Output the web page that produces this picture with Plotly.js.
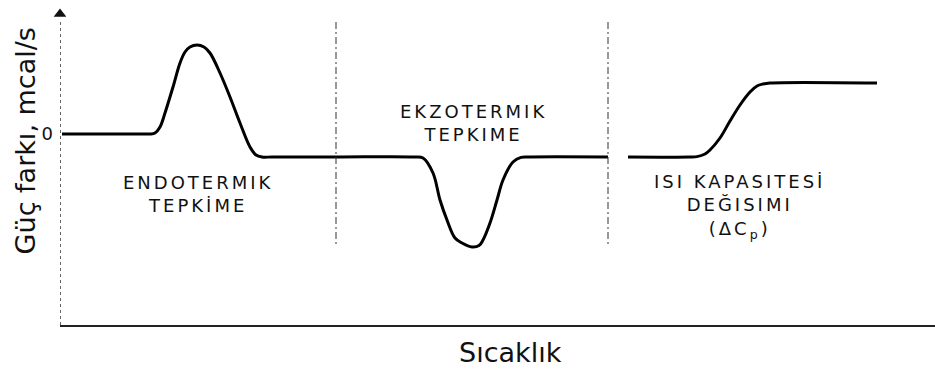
<!DOCTYPE html>
<html>
<head>
<meta charset="utf-8">
<script src="https://cdn.plot.ly/plotly-3.0.1.min.js"></script>
<style>
  html, body { margin: 0; padding: 0; background: #fff; }
  #chart { width: 935px; height: 370px; }
  /* stencil-like spacing for the three region labels */
  .annotation[data-index="0"] text,
  .annotation[data-index="1"] text,
  .annotation[data-index="2"] text { letter-spacing: 3px; }
</style>
</head>
<body>
<div id="chart"></div>
<script>
// Thermogram: power difference versus temperature (arbitrary units)
const temperature = [
  0.2, 8.0, 9.0, 9.5, 10.0, 10.5, 11.3, 12.0, 12.5, 13.0, 13.7, 14.4, 15.0, 16.0, 17.0, 18.0, 19.0, 19.6, 20.2, 21.2,
  27.6, 35.4, 36.3, 37.3, 38.0, 38.7, 39.5, 40.2, 41.2, 41.9, 42.3, 43.0, 43.7, 44.3, 45.3, 46.1, 47.0, 54.8,
  null,
  56.8, 63.0, 63.7, 64.5, 65.0, 66.0, 67.0, 68.0, 69.0, 69.7, 70.3, 71.0, 81.7
];
const powerDiff = [
  0, 0, 0, 0.05, 0.35, 1.05, 2.35, 3.55, 4.1, 4.35, 4.45, 4.35, 4.05, 3.05, 1.85, 0.55, -0.65, -1.05, -1.15, -1.15,
  -1.15, -1.15, -1.2, -1.95, -3.3, -4.3, -5.2, -5.45, -5.65, -5.58, -5.3, -4.45, -3.3, -2.3, -1.4, -1.17, -1.15, -1.15,
  null,
  -1.15, -1.15, -1.13, -1.0, -0.8, -0.2, 0.65, 1.45, 2.1, 2.4, 2.5, 2.55, 2.55
];

// Region boundaries (dashed)
const boundaryT = [27.6, 54.8];
const boundaryTop = 5.6;
const boundaryBottom = -5.55;

// Y axis tick
const yTickVals = [0];
const yTickText = ['0'];

// Region labels
const regionLabels = [
  'ENDOTERMIK<br>TEPKİME',
  'EKZOTERMIK<br>TEPKIME',
  'ISI KAPASITESİ<br>DEĞISIMI<br>(ΔC<sub>p</sub>)'
];
const regionLabelT = [13.9, 41.4, 67.9];
const regionLabelP = [-2.975, 0.55, -3.6];

const xTitle = 'Sıcaklık';
const yTitle = 'Güç farkı, mcal/s';

const ink = '#000';
const labelFont = { family: 'DejaVu Sans', size: 18, color: '#111' };

const traces = [
  {
    x: temperature, y: powerDiff, type: 'scatter', mode: 'lines',
    line: { color: ink, width: 3, shape: 'spline', smoothing: 1 },
    connectgaps: false, hoverinfo: 'skip'
  },
  // arrow head at the top of the vertical axis
  {
    x: [0], y: [6.0], type: 'scatter', mode: 'markers', cliponaxis: false,
    marker: { symbol: 'triangle-up', size: 11, color: '#111', line: { width: 0 } }, hoverinfo: 'skip'
  }
];
boundaryT.forEach(t => traces.push({
  x: [t, t], y: [boundaryTop, boundaryBottom], type: 'scatter', mode: 'lines',
  line: { color: '#333', width: 1, dash: '7px,3px,2px,3px' }, hoverinfo: 'skip'
}));

const annotations = regionLabels.map((txt, i) => ({
  text: txt, x: regionLabelT[i], y: regionLabelP[i], xref: 'x', yref: 'y',
  showarrow: false, xanchor: 'center', yanchor: 'middle', align: 'center', font: labelFont
}));
annotations.push({
  text: xTitle, xref: 'paper', yref: 'paper', x: 0.5154, y: -0.086,
  showarrow: false, xanchor: 'center', yanchor: 'middle',
  font: { family: 'DejaVu Sans', size: 27, color: '#111' }
});
annotations.push({
  text: yTitle, xref: 'paper', yref: 'paper', x: -0.04, y: 0.565, textangle: -90,
  showarrow: false, xanchor: 'center', yanchor: 'middle',
  font: { family: 'DejaVu Sans', size: 27, color: '#111' }
});

const layout = {
  width: 935, height: 370,
  margin: { l: 60, r: 0, t: 0, b: 45 },
  paper_bgcolor: '#fff', plot_bgcolor: '#fff',
  showlegend: false,
  xaxis: {
    range: [0, 87.5], showgrid: false, zeroline: false, showticklabels: false, ticks: '',
    showline: true, linecolor: '#222', linewidth: 2
  },
  yaxis: {
    range: [-9.55, 6.7], showgrid: false, zeroline: false, showline: false,
    tickvals: yTickVals, ticktext: yTickText, ticks: '', ticklabelstandoff: 6,
    tickfont: { family: 'DejaVu Sans', size: 18, color: '#111' }
  },
  shapes: [
    { type: 'line', xref: 'x', yref: 'y', x0: 0, x1: 0, y0: 5.6, y1: -9.55,
      line: { color: '#333', width: 1.5, dash: 'dot' } }
  ],
  annotations: annotations
};

Plotly.newPlot('chart', traces, layout, { staticPlot: true, displayModeBar: false });
</script>
</body>
</html>
